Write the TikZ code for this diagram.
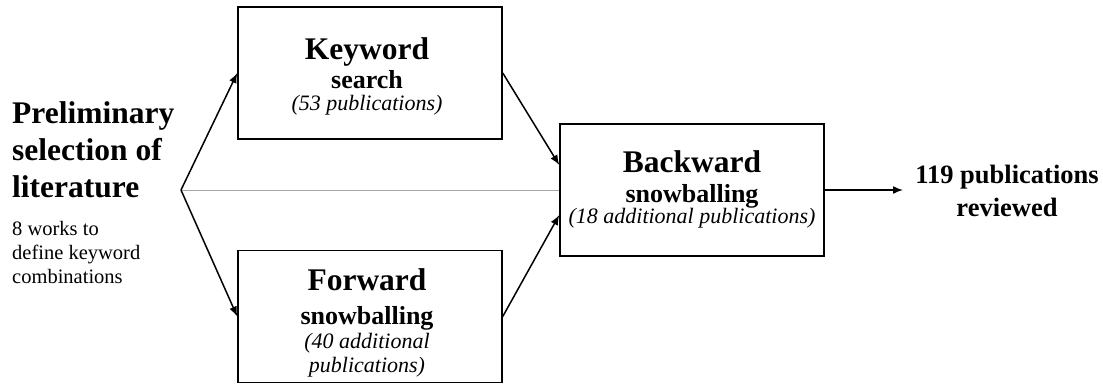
\documentclass[tikz,border=0pt]{standalone}
\usepackage{fontspec}
\setmainfont{Liberation Serif}
\usetikzlibrary{arrows.meta}
\tikzset{stage/.style={draw=black,line width=1.5pt,minimum width=264pt,minimum height=132pt,inner sep=0pt},
head/.style={anchor=base,inner sep=0pt,font=\bfseries\fontsize{31.5}{34}\selectfont},
sub/.style={anchor=base,inner sep=0pt,font=\bfseries\fontsize{26}{28}\selectfont},
note/.style={anchor=base,inner sep=0pt,font=\itshape\fontsize{22}{24}\selectfont},
plain/.style={anchor=base west,inner sep=0pt,font=\fontsize{20.5}{24}\selectfont},
arrow/.style={-{Latex[length=10pt,width=8pt]},line width=1.5pt}}
\begin{document}
\begin{tikzpicture}[x=1pt,y=-1pt]
\useasboundingbox (0,0) rectangle (1103,383);
% boxes
\node[stage] (kw) at (370,73) {};
\node[stage] (fw) at (370,316.5) {};
\node[stage] (bw) at (692,190) {};
\coordinate (src) at (181,190);
\coordinate (out) at (903,190);
% left text
\node[head,anchor=base west] (pre1) at (12,123) {Preliminary};
\node[head,anchor=base west] (pre2) at (12,160) {selection of};
\node[head,anchor=base west] (pre3) at (12,197) {literature};
\node[plain] (pre4) at (12,235) {8 works to};
\node[plain] (pre5) at (12,259) {define keyword};
\node[plain] (pre6) at (12,283) {combinations};
% box texts
\node[head] (kw1) at (367,59) {Keyword};
\node[sub] (kw2) at (367,88) {search};
\node[note] (kw3) at (367,110) {(53 publications)};
\node[head] (fw1) at (367,290) {Forward};
\node[sub] (fw2) at (367,324) {snowballing};
\node[note] (fw3) at (367,348) {(40 additional};
\node[note] (fw4) at (367,372) {publications)};
\node[head] (bw1) at (692,172) {Backward};
\node[sub] (bw2) at (692,202) {snowballing};
\node[note] (bw3) at (692,223) {(18 additional publications)};
% result
\node[sub,font=\bfseries\fontsize{26.5}{28}\selectfont] (res1) at (1007,183) {119 publications};
\node[sub,font=\bfseries\fontsize{26.5}{28}\selectfont] (res2) at (1007,216) {reviewed};
% connectors
\draw[gray!70,line width=1pt] (src) -- (bw.west);
\draw[arrow] (src) -- (kw.west);
\draw[arrow] (src) -- (fw.west);
\draw[arrow] (kw.east) -- ([yshift=25pt]bw.west);
\draw[arrow] (fw.east) -- ([yshift=-25pt]bw.west);
\draw[arrow] (bw.east) -- (out);
\end{tikzpicture}
\end{document}
